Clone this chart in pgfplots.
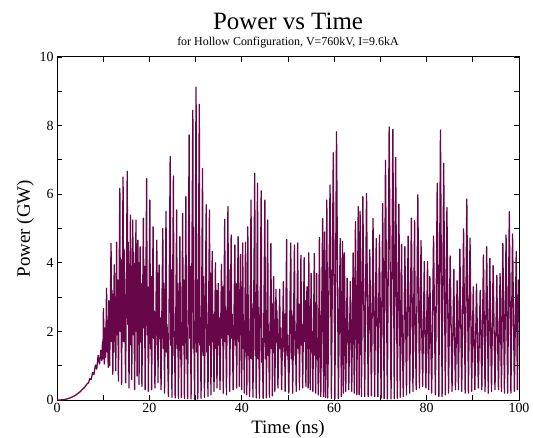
\documentclass[border=0pt]{standalone}
\usepackage{fontspec}
\setmainfont{Liberation Serif}
\usepackage{pgfplots}
\pgfplotsset{compat=1.18}
\definecolor{gracemaroon}{RGB}{103,7,72}
\begin{document}
\begin{tikzpicture}
\begin{axis}[
  scale only axis, width=462bp, height=343bp,
  xmin=0, xmax=100, ymin=0, ymax=10,
  xtick={0,20,...,100}, minor xtick={10,30,...,90},
  ytick={0,2,...,10}, minor ytick={1,3,...,9},
  tick align=inside, major tick length=5bp, minor tick length=5bp,
  tick style={black, line width=0.9bp},
  axis line style={line width=1bp},
  ticklabel style={font=\fontsize{14}{16}\selectfont},
  /pgf/number format/assume math mode=true,
  clip=true,
]
\addplot[gracemaroon, line width=1.3bp, line join=round] coordinates {
(0,0) (0.5,0.001) (1,0.004) (1.5,0.012) (2,0.025) (2.5,0.045) (3,0.07) (3.5,0.10) (4,0.14) (4.5,0.19) (5,0.24) (5.5,0.31) (5.9,0.36) (6.2,0.41) (6.5,0.47) (6.8,0.5) (7.1,0.62) (7.4,0.6) (7.7,0.8) (8.0,0.74) (8.3,1.02) (8.6,0.9) (8.9,1.3) (9.2,1.05) (9.5,1.45) (9.7,1.15) (9.85,1.7) (9.95,1.2)
(10.05,2.67) (10.25,1.05) (10.4,2.1) (10.55,1.25) (10.72,3.26) (10.88,1.4) (10.98,2.3) (11.08,0.95) (11.22,2.9) (11.4,1.0) (11.7,4.57) (11.82,1.7) (11.92,3.2) (12.08,0.75) (12.4,3.94) (12.55,1.4) (12.65,3.0) (12.72,0.85) (12.9,4.6) (13.02,1.9) (13.12,3.5) (13.3,0.55) (13.6,6.17) (13.72,2.0) (13.82,4.1) (13.98,0.45) (14.3,6.5) (14.42,1.7) (14.52,4.4) (14.85,0.5) (15.2,6.67) (15.32,2.2) (15.42,4.6) (15.58,0.35) (15.9,5.39) (16.02,1.6) (16.1,3.9) (16.18,0.6) (16.4,5.25) (16.52,1.9) (16.62,4.3) (16.8,0.3) (17.1,5.25) (17.2,2.0) (17.28,3.6) (17.34,0.7) (17.5,4.66) (17.6,1.8) (17.68,4.0) (17.75,0.45) (18.0,4.47) (18.12,1.7) (18.22,3.4) (18.38,0.4) (18.7,5.3) (18.82,2.1) (18.92,3.9) (19.08,0.3) (19.4,6.45) (19.52,1.9) (19.62,3.3) (19.78,0.25)
(20.1,5.83) (20.22,1.5) (20.32,3.6) (20.48,0.3) (20.8,5.05) (20.92,1.8) (21.02,2.6) (21.2,0.35) (21.6,4.66) (21.72,1.6) (21.8,3.7) (21.85,0.5) (22.1,3.94) (22.22,1.8) (22.32,2.4) (22.52,0.3) (22.9,5.0) (23.02,1.5) (23.12,3.4) (23.28,0.2) (23.6,5.5) (23.72,1.4) (23.82,2.2) (24.12,0.1) (24.5,7.1) (24.62,1.6) (24.72,3.8) (24.88,0.08) (25.2,6.53) (25.32,1.3) (25.42,2.0) (25.58,0.06) (25.9,5.54) (26.02,1.5) (26.12,3.4) (26.28,0.05) (26.6,4.76) (26.72,1.2) (26.82,1.9) (26.92,0.08) (27.2,5.44) (27.32,1.6) (27.42,3.5) (27.58,0.05) (27.9,5.93) (28.02,1.2) (28.12,2.1) (28.28,0.04) (28.6,7.73) (28.72,1.8) (28.82,3.9) (29.02,0.03) (29.4,8.45) (29.52,1.5) (29.62,2.3) (29.78,0.02)
(30.1,9.12) (30.22,1.4) (30.32,3.5) (30.48,0.03) (30.8,8.62) (30.92,1.6) (31.02,2.4) (31.18,0.05) (31.5,6.75) (31.62,1.3) (31.72,3.6) (31.92,0.08) (32.3,5.69) (32.42,1.4) (32.52,2.2) (32.68,0.1) (33.0,5.54) (33.12,1.6) (33.22,3.7) (33.32,0.15) (33.6,4.33) (33.72,1.7) (33.82,2.5) (33.98,0.25) (34.3,4.0) (34.42,1.5) (34.52,3.2) (34.62,0.35) (34.9,3.4) (35.02,1.6) (35.12,2.4) (35.28,0.3) (35.6,3.96) (35.72,1.8) (35.82,3.3) (35.98,0.2) (36.3,5.27) (36.42,1.7) (36.52,2.6) (36.68,0.15) (37.0,5.64) (37.12,1.9) (37.22,3.8) (37.38,0.25) (37.7,4.81) (37.82,1.8) (37.92,2.5) (38.12,0.3) (38.5,4.52) (38.62,1.6) (38.72,3.4) (38.88,0.35) (39.2,4.76) (39.32,1.7) (39.4,2.4) (39.48,0.4) (39.7,4.24) (39.82,1.9) (39.9,3.3) (39.98,0.3)
(40.2,4.58) (40.32,1.5) (40.42,2.3) (40.55,0.2) (40.8,4.6) (40.92,1.4) (41.0,3.0) (41.08,0.15) (41.3,5.05) (41.42,1.3) (41.52,2.0) (41.68,0.1) (42.0,5.83) (42.12,1.2) (42.22,2.8) (42.42,0.08) (42.8,6.61) (42.92,1.3) (43.02,1.9) (43.12,0.06) (43.4,6.32) (43.52,1.2) (43.62,2.7) (43.82,0.05) (44.2,6.1) (44.32,1.1) (44.42,1.8) (44.62,0.05) (45.0,5.83) (45.12,1.2) (45.22,2.6) (45.32,0.06) (45.6,5.25) (45.72,1.3) (45.82,2.0) (45.98,0.08) (46.3,4.57) (46.42,1.5) (46.52,2.8) (46.62,0.12) (46.9,3.6) (47.0,1.6) (47.08,2.2) (47.15,0.25) (47.4,3.23) (47.52,1.7) (47.62,2.6) (47.82,0.35) (48.2,3.23) (48.32,1.5) (48.42,2.1) (48.62,0.3) (49.0,3.45) (49.12,1.4) (49.22,2.5) (49.38,0.25) (49.7,4.68) (49.82,1.3) (49.92,1.9)
(50.18,0.2) (50.6,4.58) (50.72,1.2) (50.82,2.6) (51.02,0.2) (51.4,4.52) (51.52,1.3) (51.62,2.0) (51.78,0.25) (52.1,4.58) (52.22,1.5) (52.32,2.8) (52.48,0.3) (52.8,4.22) (52.92,1.6) (53.02,2.2) (53.18,0.35) (53.5,4.15) (53.62,1.7) (53.72,2.9) (53.88,0.4) (54.1,3.3) (54.2,1.6) (54.28,2.2) (54.35,0.35) (54.5,4.29) (54.62,1.5) (54.72,2.6) (54.8,0.3) (55.0,3.69) (55.12,1.4) (55.22,2.0) (55.38,0.25) (55.7,4.27) (55.82,1.3) (55.9,2.4) (55.98,0.2) (56.2,3.69) (56.32,1.2) (56.42,1.8) (56.55,0.15) (56.8,4.74) (56.95,1.3) (57.1,0.1) (57.5,5.29) (57.62,1.6) (57.7,0.1) (57.9,4.9) (58.05,1.2) (58.15,0.08) (58.4,5.83) (58.6,0.06) (59.1,6.27) (59.4,0.05) (59.8,7.21)
(60.15,0.04) (60.5,7.82) (60.9,0.04) (61.3,4.71) (61.55,0.1) (61.8,4.62) (62.0,0.2) (62.2,4.29) (62.5,0.25) (62.8,3.55) (62.95,2.3) (63.15,0.3) (63.5,3.45) (63.8,0.25) (64.1,4.29) (64.35,0.2) (64.6,5.2) (64.9,0.15) (65.2,5.64) (65.4,0.15) (65.6,5.5) (65.9,0.1) (66.2,5.93) (66.6,0.1) (67.0,6.02) (67.35,0.1) (67.7,4.38) (67.85,2.5) (68.05,0.12) (68.4,5.3) (68.75,0.1) (69.1,4.71) (69.45,0.1) (69.8,4.81)
(70.15,0.05) (70.5,5.73) (70.8,0.04) (71.1,6.99) (71.5,0.03) (71.9,7.96) (72.3,0.03) (72.7,7.89) (73.0,0.04) (73.3,7.07) (73.65,0.05) (74.0,5.71) (74.3,0.08) (74.6,4.54) (74.7,2.4) (74.95,0.1) (75.3,4.47) (75.65,0.15) (76.0,4.78) (76.35,0.2) (76.7,5.3) (77.05,0.25) (77.4,5.23) (77.5,2.6) (77.75,0.3) (78.1,5.98) (78.45,0.35) (78.8,4.65) (78.9,2.5) (79.15,0.4) (79.5,4.04) (79.6,2.6) (79.85,0.35)
(80.2,4.04) (80.45,0.3) (80.7,3.6) (81.1,0.2) (81.5,4.78) (81.9,0.15) (82.3,6.32) (82.65,0.1) (83.0,7.87) (83.35,0.1) (83.7,6.9) (84.05,0.15) (84.4,5.61) (84.75,0.2) (85.1,4.2) (85.5,0.25) (85.9,3.81) (86.0,2.3) (86.25,0.3) (86.6,3.48) (86.9,0.3) (87.2,4.4) (87.6,0.25) (88.0,4.99) (88.35,0.2) (88.7,5.86) (89.05,0.2) (89.4,4.72) (89.75,0.25)
(90.1,3.3) (90.2,2.2) (90.45,0.3) (90.8,3.38) (91.2,0.35) (91.6,3.2) (91.7,2.4) (91.95,0.3) (92.3,4.23) (92.65,0.25) (93.0,4.47) (93.35,0.2) (93.7,4.13) (93.8,2.6) (94.05,0.25) (94.4,3.92) (94.8,0.3) (95.2,3.64) (95.3,2.5) (95.55,0.3) (95.9,3.69) (96.2,0.25) (96.5,4.57) (96.85,0.2) (97.2,4.81) (97.55,0.2) (97.9,5.49) (98.25,0.2) (98.6,4.84) (99.0,0.25) (99.4,4.33) (99.65,0.3) (99.9,3.5) (100,2.5)
};
\end{axis}
% titles and axis labels
\node[anchor=base, font=\fontsize{25}{28}\selectfont] at ([yshift=27bp]current axis.north) {Power vs Time};
\node[anchor=base, font=\fontsize{12}{14}\selectfont] at ([yshift=11bp]current axis.north) {for Hollow Configuration, V=760kV, I=9.6kA};
\node[anchor=base, font=\fontsize{19}{22}\selectfont] at ([yshift=-33bp]current axis.south) {Time (ns)};
\node[anchor=base, rotate=90, font=\fontsize{19}{22}\selectfont] at ([xshift=-27bp]current axis.west) {Power (GW)};
\pgfresetboundingbox
\path ([shift={(-57bp,-38bp)}]current axis.south west) rectangle ([shift={(14bp,57bp)}]current axis.north east);
\end{tikzpicture}
\end{document}
